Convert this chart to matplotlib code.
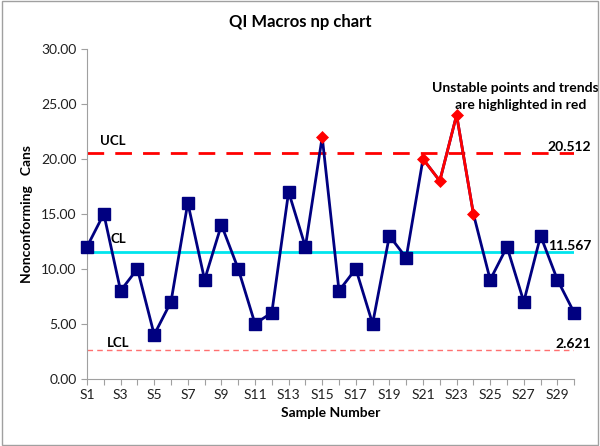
import matplotlib
matplotlib.use("Agg")
import matplotlib.pyplot as plt
from matplotlib.patches import Rectangle

samples = [f"S{i}" for i in range(1, 31)]
values = [12, 15, 8, 10, 4, 7, 16, 9, 14, 10, 5, 6, 17, 12, 22,
          8, 10, 5, 13, 11, 20, 18, 24, 15, 9, 12, 7, 13, 9, 6]
unstable = [15, 21, 22, 23, 24]          # sample numbers highlighted
red_segments = [(21, 22), (22, 23), (23, 24)]
ucl, cl, lcl = 20.512, 11.567, 2.621
yticks = [0, 5, 10, 15, 20, 25, 30]

plt.rcParams['font.family'] = ['Lato', 'DejaVu Sans']

fig = plt.figure(figsize=(6.0, 4.46), dpi=100)
ax = fig.add_axes([0.145, 0.151, 0.812, 0.739])

x = list(range(1, len(values) + 1))
navy = '#000080'
red = '#FF0000'

ax.axhline(ucl, color=red, lw=2, dashes=(6, 4), zorder=1)
ax.axhline(cl, color='#00E5EE', lw=2, zorder=1)
ax.axhline(lcl, color='#FF7070', lw=1, dashes=(4, 3), zorder=1)

ax.plot(x, values, color=navy, lw=2, zorder=3, clip_on=False)
stable = [i for i in x if i not in unstable]
ax.plot(stable, [values[i - 1] for i in stable], linestyle='none', marker='s', ms=8,
        mfc=navy, mec=navy, zorder=4, clip_on=False)
for a, b in red_segments:
    ax.plot([a, b], [values[a - 1], values[b - 1]], color=red, lw=2, zorder=4)
ax.plot(unstable, [values[i - 1] for i in unstable], linestyle='none', marker='D',
        ms=6.5, mfc=red, mec=red, mew=0.5, zorder=5, clip_on=False)

ax.set_xlim(1, 30)
ax.set_ylim(0, 30)
ax.set_yticks(yticks)
ax.set_yticklabels([f"{v:.2f}" for v in yticks], fontsize=10)
ax.set_xticks(x)
ax.set_xticklabels([s if i % 2 == 0 else '' for i, s in enumerate(samples)], fontsize=10)
for s in ['top', 'right']:
    ax.spines[s].set_visible(False)
for s in ['left', 'bottom']:
    ax.spines[s].set_color('#A0A0A0')
ax.tick_params(axis='both', colors='#A0A0A0', labelcolor='#202020', length=4)

ax.set_xlabel('Sample Number', fontsize=10, fontweight='bold', labelpad=4)
ax.set_ylabel('Nonconforming   Cans', fontsize=10, fontweight='bold', labelpad=6)
fig.text(0.5, 0.95, 'QI Macros np chart', ha='center', va='center', fontsize=12,
         fontweight='bold')

ax.text(1.8, ucl + 0.6, 'UCL', fontsize=9.5, fontweight='bold', va='bottom')
ax.text(2.4, cl + 0.6, 'CL', fontsize=9.5, fontweight='bold', va='bottom')
ax.text(2.2, lcl + 0.1, 'LCL', fontsize=9.5, fontweight='bold', va='bottom')
ax.text(31.0, ucl, f"{ucl:.3f}", fontsize=10, fontweight='bold', ha='right', va='bottom')
ax.text(31.0, cl, f"{cl:.3f}", fontsize=10, fontweight='bold', ha='right', va='bottom')
ax.text(31.0, lcl, f"{lcl:.3f}", fontsize=10, fontweight='bold', ha='right', va='bottom')
ax.text(26.5, 24.4, 'Unstable points and trends\n   are highlighted in red', fontsize=10,
        fontweight='bold', ha='center', va='bottom', linespacing=1.45)
for t in ax.texts:
    t.set_clip_on(False)

fig.patches.append(Rectangle((0.003, 0.003), 0.994, 0.994, transform=fig.transFigure,
                             fill=False, edgecolor='#A0A0A0', lw=1))

fig.savefig('out.png', dpi=100)
